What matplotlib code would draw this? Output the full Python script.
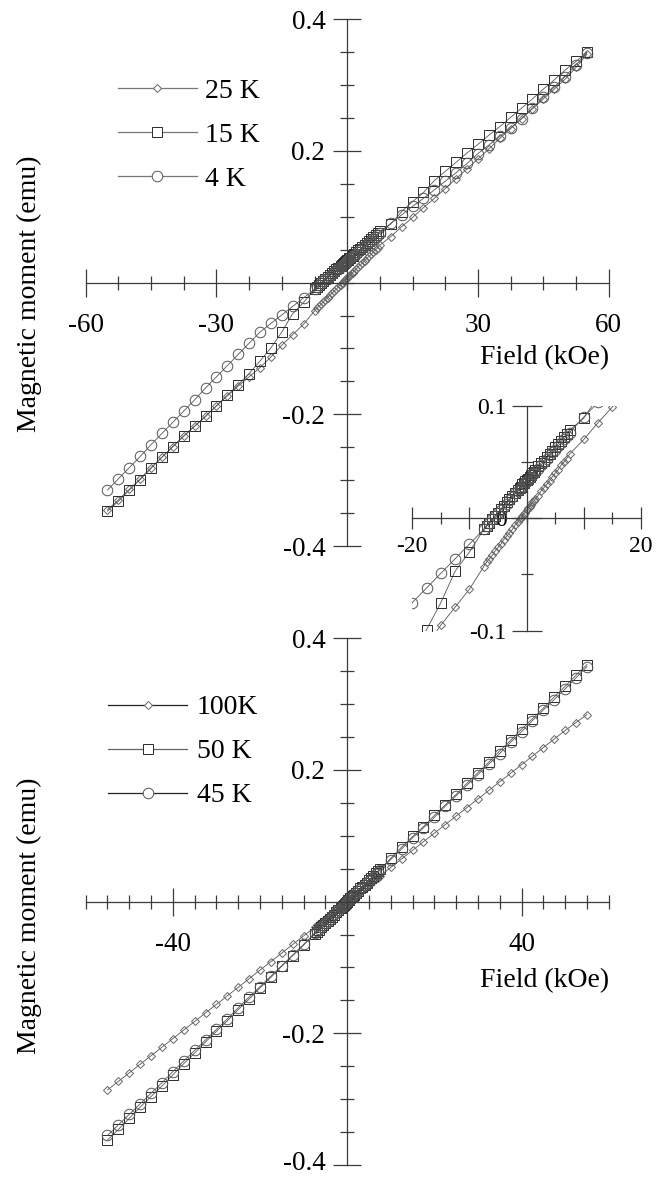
import matplotlib
matplotlib.use('Agg')
import matplotlib.pyplot as plt
from matplotlib.lines import Line2D
from matplotlib.ticker import FixedLocator, FixedFormatter, MultipleLocator
from matplotlib.transforms import ScaledTranslation

plt.rcParams['font.family'] = ['Liberation Serif', 'DejaVu Serif']
plt.rcParams['axes.unicode_minus'] = False

# applied field (kOe): coarse sweep, fine steps around zero, coarse sweep
field = ([-55, -52.5, -50, -47.5, -45, -42.5, -40, -37.5, -35, -32.5,
          -30, -27.5, -25, -22.5, -20, -17.5, -15, -12.5, -10]
         + [-7.5, -7, -6.5, -6, -5.5, -5, -4.5, -4, -3.5, -3, -2.5, -2, -1.5]
         + [-1.25, -1, -0.75, -0.5, -0.25, 0, 0.25, 0.5, 0.75, 1, 1.25]
         + [1.5, 2, 2.5, 3, 3.5, 4, 4.5, 5, 5.5, 6, 6.5, 7, 7.5]
         + [10, 12.5, 15, 17.5, 20, 22.5, 25, 27.5, 30, 32.5, 35, 37.5, 40,
            42.5, 45, 47.5, 50, 52.5, 55])

# magnetic moment (emu), low temperatures
m_25K = ([-0.345, -0.330, -0.314, -0.298, -0.281, -0.265, -0.249, -0.233, -0.218, -0.203,
          -0.187, -0.172, -0.157, -0.143, -0.129, -0.113, -0.095, -0.079, -0.063]
         + [-0.043, -0.039, -0.036, -0.033, -0.029, -0.026, -0.023, -0.019, -0.016, -0.013,
            -0.010, -0.006, -0.003]
         + [-0.001, 0.000, 0.002, 0.004, 0.005, 0.007, 0.009, 0.010, 0.012, 0.014, 0.015]
         + [0.017, 0.020, 0.024, 0.027, 0.030, 0.033, 0.037, 0.040, 0.043, 0.047,
            0.050, 0.053, 0.057]
         + [0.070, 0.085, 0.099, 0.114, 0.128, 0.143, 0.158, 0.173, 0.188, 0.203,
            0.219, 0.234, 0.249, 0.264, 0.279, 0.294, 0.309, 0.327, 0.347])
m_15K = ([-0.347, -0.332, -0.315, -0.299, -0.282, -0.265, -0.249, -0.233, -0.218, -0.203,
          -0.187, -0.171, -0.155, -0.138, -0.119, -0.099, -0.075, -0.047, -0.030]
         + [-0.010, -0.007, -0.004, -0.001, 0.002, 0.005, 0.008, 0.011, 0.014, 0.017,
            0.020, 0.022, 0.025]
         + [0.027, 0.028, 0.030, 0.031, 0.033, 0.034, 0.035, 0.037, 0.038, 0.040, 0.041]
         + [0.043, 0.046, 0.049, 0.051, 0.054, 0.057, 0.060, 0.063, 0.066, 0.069,
            0.072, 0.075, 0.078]
         + [0.089, 0.108, 0.123, 0.137, 0.155, 0.169, 0.183, 0.197, 0.210, 0.224,
            0.237, 0.251, 0.265, 0.279, 0.294, 0.308, 0.323, 0.336, 0.350])
m_4K = ([-0.315, -0.298, -0.281, -0.264, -0.246, -0.229, -0.212, -0.195, -0.178, -0.160,
         -0.143, -0.126, -0.109, -0.092, -0.075, -0.062, -0.049, -0.036, -0.023]
        + [-0.010, -0.007, -0.004, -0.001, 0.002, 0.005, 0.007, 0.010, 0.013, 0.016,
           0.019, 0.022, 0.024]
        + [0.026, 0.027, 0.029, 0.030, 0.032, 0.033, 0.034, 0.036, 0.037, 0.039, 0.040]
        + [0.042, 0.044, 0.047, 0.050, 0.053, 0.056, 0.059, 0.061, 0.064, 0.067,
           0.070, 0.073, 0.076]
        + [0.090, 0.103, 0.116, 0.128, 0.141, 0.154, 0.167, 0.181, 0.196, 0.209,
           0.222, 0.235, 0.249, 0.265, 0.282, 0.297, 0.313, 0.331, 0.349])

# magnetic moment (emu), high temperatures
m_100K = ([-0.286, -0.273, -0.260, -0.247, -0.234, -0.221, -0.208, -0.195, -0.182, -0.169,
           -0.156, -0.143, -0.130, -0.117, -0.104, -0.091, -0.078, -0.065, -0.052]
          + [-0.039, -0.036, -0.034, -0.031, -0.029, -0.026, -0.023, -0.021, -0.018, -0.016,
             -0.013, -0.010, -0.008]
          + [-0.0065, -0.005, -0.004, -0.003, -0.001, 0.000, 0.001, 0.003, 0.004, 0.005, 0.0065]
          + [0.008, 0.010, 0.013, 0.016, 0.018, 0.021, 0.023, 0.026, 0.029, 0.031,
             0.034, 0.036, 0.039]
          + [0.052, 0.065, 0.078, 0.091, 0.104, 0.117, 0.130, 0.143, 0.156, 0.169,
             0.182, 0.195, 0.208, 0.221, 0.234, 0.247, 0.260, 0.272, 0.284])
m_50K = ([-0.362, -0.346, -0.329, -0.312, -0.296, -0.280, -0.263, -0.246, -0.230, -0.213,
          -0.197, -0.181, -0.164, -0.148, -0.131, -0.115, -0.098, -0.082, -0.066]
         + [-0.049, -0.046, -0.043, -0.039, -0.036, -0.033, -0.029, -0.026, -0.023, -0.020,
            -0.016, -0.013, -0.010]
         + [-0.008, -0.007, -0.005, -0.003, -0.002, 0.000, 0.002, 0.003, 0.005, 0.007, 0.008]
         + [0.010, 0.013, 0.016, 0.020, 0.023, 0.026, 0.029, 0.033, 0.036, 0.039,
            0.043, 0.046, 0.049]
         + [0.066, 0.083, 0.099, 0.114, 0.131, 0.147, 0.163, 0.180, 0.196, 0.212,
            0.229, 0.245, 0.262, 0.278, 0.294, 0.311, 0.327, 0.344, 0.360])
m_45K = ([-0.355, -0.339, -0.323, -0.307, -0.291, -0.275, -0.258, -0.242, -0.226, -0.210,
          -0.194, -0.178, -0.161, -0.145, -0.129, -0.113, -0.097, -0.081, -0.065]
         + [-0.048, -0.045, -0.042, -0.038, -0.035, -0.032, -0.029, -0.026, -0.022, -0.019,
            -0.016, -0.013, -0.010]
         + [-0.008, -0.006, -0.005, -0.003, -0.002, 0.000, 0.002, 0.003, 0.005, 0.006, 0.008]
         + [0.010, 0.013, 0.016, 0.019, 0.022, 0.026, 0.029, 0.032, 0.035, 0.038,
            0.042, 0.045, 0.048]
         + [0.064, 0.080, 0.097, 0.112, 0.128, 0.145, 0.161, 0.177, 0.193, 0.209,
            0.225, 0.242, 0.258, 0.275, 0.291, 0.307, 0.323, 0.340, 0.357])

low_labels = ['25 K', '15 K', '4 K']
high_labels = ['100K', '50 K', '45 K']

W, H = 664, 1178
AXC = '#3a3a3a'
LINEC = '#555555'
styles = [dict(marker='D', ms=4.2, mec='#666666'),
          dict(marker='s', ms=7.6, mec='#2a2a2a'),
          dict(marker='o', ms=7.6, mec='#555555')]

fig = plt.figure(figsize=(W / 100, H / 100), dpi=100)


def px_rect(x0, x1, y_top, y_bot):
    return [x0 / W, 1 - y_bot / H, (x1 - x0) / W, (y_bot - y_top) / H]


def cross_axes(rect, xlim, ylim, xt, xtl, xminor, yt, ytl, yminor,
               fs=19.5, xlen=19.5, ylen=19.5, mlen=10, xpad=12, ypad=6):
    ax = fig.add_axes(rect)
    ax.patch.set_visible(False)
    ax.set_xlim(xlim)
    ax.set_ylim(ylim)
    for s in ['top', 'right']:
        ax.spines[s].set_visible(False)
    for s in ['left', 'bottom']:
        ax.spines[s].set_position('zero')
        ax.spines[s].set_color(AXC)
        ax.spines[s].set_linewidth(0.9)
    ax.xaxis.set_major_locator(FixedLocator(xt))
    ax.xaxis.set_major_formatter(FixedFormatter(xtl))
    ax.xaxis.set_minor_locator(MultipleLocator(xminor))
    ax.yaxis.set_major_locator(FixedLocator(yt))
    ax.yaxis.set_major_formatter(FixedFormatter(ytl))
    ax.yaxis.set_minor_locator(MultipleLocator(yminor))
    ax.tick_params(which='both', direction='inout', color=AXC, width=0.9,
                   labelsize=fs, labelcolor='black')
    ax.tick_params(axis='x', which='major', length=xlen, pad=xpad)
    ax.tick_params(axis='y', which='major', length=ylen, pad=ypad)
    ax.tick_params(which='minor', length=mlen)
    return ax


def draw_series(ax, series):
    for m, st in zip(series, styles):
        ax.plot(field, m, color=LINEC, lw=0.6, mfc='none', mew=0.7, **st)


def legend_rows(x0, x1, xm, xt, rows, labels, line_colors):
    for y, lab, st, lc in zip(rows, labels, styles, line_colors):
        yf = 1 - y / H
        fig.add_artist(Line2D([x0 / W, x1 / W], [yf, yf], transform=fig.transFigure,
                              color=lc, lw=0.9))
        fig.add_artist(Line2D([xm / W], [yf], transform=fig.transFigure, color=lc,
                              mfc='white', mew=0.7, **st))
        fig.text(xt / W, yf, lab, fontsize=20, ha='left', va='center_baseline')


# upper panel: low temperatures
ax1 = cross_axes(px_rect(85.7, 608.7, 19.3, 546), (-60, 60), (-0.4, 0.4),
                 [-60, -30, 30, 60], ['-60', '-30', '30', '60'], 7.5,
                 [-0.4, -0.2, 0.2, 0.4], ['-0.4', '-0.2', '0.2', '0.4'], 0.05)
draw_series(ax1, [m_25K, m_15K, m_4K])
ax1.text(1.0, 0.357, 'Field (kOe)', transform=ax1.transAxes, fontsize=20,
         ha='right', va='center')
fig.text(29 / W, 1 - 294 / H, 'Magnetic moment (emu)', rotation=90, fontsize=20,
         ha='center', va='center')
legend_rows(118, 197, 157, 205, [88, 132, 176], low_labels, ['#777777'] * 3)

# lower panel: high temperatures
ax2 = cross_axes(px_rect(85.7, 608.7, 638.3, 1165), (-60, 60), (-0.4, 0.4),
                 [-40, 40], ['-40', '40'], 5,
                 [-0.4, -0.2, 0.2, 0.4], ['-0.4', '-0.2', '0.2', '0.4'], 0.05)
draw_series(ax2, [m_100K, m_50K, m_45K])
ax2.text(1.0, 0.351, 'Field (kOe)', transform=ax2.transAxes, fontsize=20,
         ha='right', va='center')
fig.text(29 / W, 1 - 916 / H, 'Magnetic moment (emu)', rotation=90, fontsize=20,
         ha='center', va='center')
legend_rows(108, 187, 148, 197, [705, 749, 793], high_labels,
            ['#222222', '#666666', '#222222'])

# lowest tick label sits right at the figure edge; nudge it up a little
low_tick = ax2.yaxis.get_major_ticks()[0].label1
low_tick.set_transform(low_tick.get_transform()
                       + ScaledTranslation(0, 0.04, fig.dpi_scale_trans))

# inset: low-field region of the upper panel
ax3 = cross_axes(px_rect(412.3, 641, 405.7, 630.7), (-20, 20), (-0.1, 0.1),
                 [-20, -10, 10, 20], ['-20', '', '', '20'], 5,
                 [-0.1, 0, 0.1], ['-0.1', '0', '0.1'], 0.05,
                 fs=17, xlen=16, ylen=21, mlen=8.5, xpad=5, ypad=4)
draw_series(ax3, [m_25K, m_15K, m_4K])

fig.savefig('out.png', dpi=100)
